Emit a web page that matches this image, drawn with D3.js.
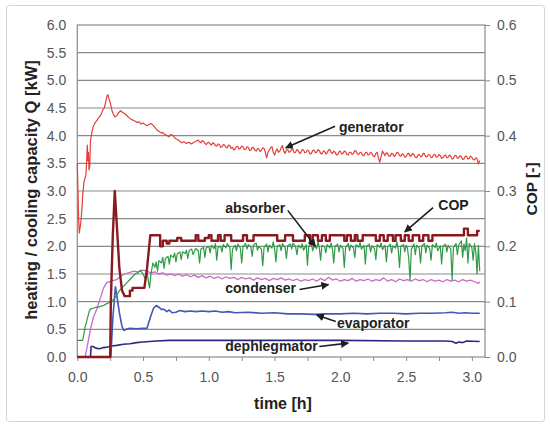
<!DOCTYPE html>
<html>
<head>
<meta charset="utf-8">
<script src="https://cdn.jsdelivr.net/npm/d3@7"></script>
<style>
  body { margin: 0; background: #fff; }
  svg { font-family: "Liberation Sans", Arial, sans-serif; }
  .tick text { font-size: 14px; fill: #555; }
  .axis path.domain { display: none; }
</style>
</head>
<body>
<div id="chart"></div>
<script>

// time [h] , Q [kW]
var generator = [[0,3.5],[0.005,3.0],[0.01,2.5],[0.015,2.24],[0.025,2.4],[0.033,2.6],[0.042,2.95],[0.05,3.15],[0.06,3.25],[0.066,3.3],[0.072,3.6],[0.076,3.83],[0.08,3.55],[0.085,3.7],[0.089,3.38],[0.095,3.45],[0.1,3.9],[0.11,4.05],[0.12,4.16],[0.135,4.23],[0.15,4.28],[0.165,4.33],[0.18,4.38],[0.195,4.47],[0.205,4.5],[0.215,4.6],[0.226,4.72],[0.233,4.74],[0.24,4.68],[0.25,4.6],[0.264,4.45],[0.275,4.38],[0.287,4.34],[0.3,4.36],[0.315,4.42],[0.33,4.45],[0.345,4.42],[0.36,4.4],[0.378,4.36],[0.39,4.33],[0.405,4.3],[0.424,4.28],[0.44,4.26],[0.455,4.24],[0.47,4.25],[0.485,4.21],[0.5,4.23],[0.515,4.2],[0.53,4.18],[0.545,4.2],[0.56,4.22],[0.576,4.19],[0.59,4.15],[0.606,4.1],[0.62,4.08],[0.635,4.05],[0.65,4.06],[0.665,4.02],[0.68,4.01],[0.695,3.98],[0.71,4.02],[0.728,4.0],[0.745,3.95],[0.76,3.93],[0.78,3.9],[0.796,3.87],[0.81,3.89],[0.83,3.86],[0.85,3.88],[0.865,3.85],[0.88,3.87],[0.9,3.9],
  [0.92,3.92],[0.93,3.89],[0.94,3.87],[0.95,3.91],[0.96,3.9],[0.97,3.86],[0.98,3.84],[0.99,3.87],[1.0,3.88],[1.01,3.85],[1.02,3.83],[1.03,3.87],[1.04,3.86],[1.05,3.82],[1.06,3.81],[1.07,3.85],[1.08,3.84],[1.09,3.79],[1.1,3.8],[1.11,3.84],[1.12,3.83],[1.13,3.79],[1.14,3.78],[1.15,3.83],[1.16,3.82],[1.17,3.77],[1.18,3.79],[1.19,3.74],[1.2,3.76],[1.21,3.8],[1.22,3.81],[1.23,3.76],[1.24,3.77],[1.25,3.81],[1.26,3.8],[1.27,3.75],[1.28,3.75],[1.29,3.8],[1.3,3.79],[1.31,3.73],[1.32,3.74],[1.33,3.79],[1.34,3.78],[1.35,3.74],[1.36,3.72],[1.37,3.77],[1.38,3.76],[1.39,3.71],[1.4,3.74],[1.41,3.78],[1.42,3.77],[1.43,3.7],[1.44,3.6],[1.45,3.7],[1.46,3.74],[1.47,3.78],[1.48,3.8],[1.49,3.7],[1.5,3.65],[1.51,3.72],[1.52,3.76],[1.53,3.7],[1.54,3.72],[1.55,3.78],[1.56,3.82],[1.57,3.72],[1.58,3.68],[1.59,3.74],[1.6,3.75],[1.61,3.7],[1.62,3.71],[1.63,3.76],[1.64,3.74],[1.65,3.69],[1.66,3.7],[1.67,3.75],[1.68,3.73],[1.69,3.68],[1.7,3.69],[1.71,3.75],[1.72,3.74],[1.73,3.69],[1.74,3.7],[1.75,3.74],[1.76,3.72],[1.77,3.67],[1.78,3.68],[1.79,3.73],[1.8,3.74],[1.81,3.69],[1.82,3.7],[1.83,3.75],[1.84,3.73],[1.85,3.68],[1.86,3.67],[1.87,3.72],[1.88,3.72],[1.89,3.67],[1.9,3.69],[1.91,3.74],[1.92,3.75],[1.93,3.69],[1.94,3.68],[1.95,3.72],[1.96,3.7],[1.97,3.65],[1.98,3.66],[1.99,3.71],[2.0,3.72],[2.01,3.67],[2.02,3.68],[2.03,3.72],[2.04,3.71],[2.05,3.66],[2.06,3.65],[2.07,3.7],[2.08,3.7],[2.09,3.66],[2.1,3.68],[2.11,3.73],[2.12,3.72],[2.13,3.67],[2.14,3.66],[2.15,3.7],[2.16,3.69],[2.17,3.64],[2.18,3.64],[2.19,3.69],[2.2,3.7],[2.21,3.65],[2.22,3.66],[2.23,3.7],[2.24,3.68],[2.25,3.63],[2.26,3.62],[2.27,3.68],[2.28,3.7],[2.29,3.6],[2.3,3.52],[2.31,3.62],[2.32,3.72],[2.33,3.68],[2.34,3.64],[2.35,3.69],[2.36,3.68],[2.37,3.63],[2.38,3.63],[2.39,3.68],[2.4,3.67],[2.41,3.62],[2.42,3.65],[2.43,3.7],[2.44,3.69],[2.45,3.64],[2.46,3.63],[2.47,3.67],[2.48,3.66],[2.49,3.61],[2.5,3.62],[2.51,3.67],[2.52,3.68],[2.53,3.63],[2.54,3.64],[2.55,3.68],[2.56,3.66],[2.57,3.61],[2.58,3.6],[2.59,3.65],[2.6,3.66],[2.61,3.62],[2.62,3.63],[2.63,3.68],[2.64,3.67],[2.65,3.62],[2.66,3.62],[2.67,3.66],[2.68,3.65],[2.69,3.6],[2.7,3.61],[2.71,3.66],[2.72,3.66],[2.73,3.61],[2.74,3.62],[2.75,3.66],[2.76,3.64],[2.77,3.59],[2.78,3.6],[2.79,3.64],[2.8,3.65],[2.81,3.6],[2.82,3.61],[2.83,3.65],[2.84,3.63],[2.85,3.58],[2.86,3.59],[2.87,3.64],[2.88,3.64],[2.89,3.59],[2.9,3.6],[2.91,3.64],[2.92,3.62],[2.93,3.57],[2.94,3.58],[2.95,3.63],[2.96,3.63],[2.97,3.58],[2.98,3.59],[2.99,3.63],[3.0,3.61],[3.01,3.57],[3.02,3.56],[3.03,3.6],[3.04,3.58],[3.05,3.49],[3.06,3.55]];

var absorber = [[0,0.3],[0.04,0.3],[0.045,0.35],[0.06,0.55],[0.075,0.68],[0.09,0.82],[0.1,0.87],[0.12,0.88],[0.14,0.9],[0.16,0.9],[0.18,0.92],[0.2,0.93],[0.22,0.96],[0.24,0.98],[0.26,1.0],[0.28,1.05],[0.3,1.12],[0.32,1.2],[0.34,1.25],[0.36,1.3],[0.38,1.35],[0.4,1.4],[0.42,1.45],[0.44,1.5],[0.46,1.52],[0.48,1.57],[0.5,1.5],[0.52,1.39],[0.53,1.55],[0.545,1.3],[0.55,1.25],[0.56,1.5],[0.575,1.7],[0.59,1.62],[0.6,1.72],[0.61,1.55],[0.62,1.74],[0.64,1.7],[0.65,1.8],[0.66,1.6],[0.67,1.78],[0.69,1.82],[0.7,1.68],[0.71,1.84],[0.73,1.8],[0.74,1.88],[0.75,1.72],[0.76,1.86],[0.78,1.9],[0.79,1.76],[0.8,1.9],[0.82,1.87],[0.83,1.93],[0.84,1.78],[0.85,1.92],[0.87,1.95],[0.88,1.85],[0.9,1.96],[0.92,1.92],[0.93,1.7],[0.94,1.95],[0.96,1.98],[0.97,1.8],[0.98,1.97],[1.0,2.0],[1.01,1.88],[1.02,2.02],[1.04,1.96],[1.05,2.05],[1.06,1.75],[1.07,1.98],[1.09,2.0],[1.1,1.9],[1.11,2.03],[1.13,1.97],[1.14,2.05],[1.16,1.98],[1.17,1.58],[1.18,1.95],[1.2,2.02],[1.21,1.92],[1.22,2.04],[1.24,1.97],[1.25,1.7],[1.26,2.0],[1.28,2.05],[1.29,1.95],[1.3,2.03],[1.32,1.98],[1.33,1.82],[1.34,2.02],[1.36,2.06],[1.37,1.93],[1.38,2.0],[1.4,1.95],[1.41,1.65],[1.42,1.98],[1.44,2.04],[1.45,1.9],[1.46,2.02],[1.48,1.97],[1.49,2.08],[1.5,1.96],[1.51,1.72],[1.52,2.0],[1.54,2.03],[1.55,1.92],[1.56,2.05],[1.58,1.98],[1.59,1.78],[1.6,2.01],[1.62,2.04],[1.63,1.95],[1.64,2.06],[1.66,1.99],[1.67,1.85],[1.68,2.02],[1.7,1.97],[1.71,2.05],[1.72,1.93],[1.74,2.03],[1.75,1.66],[1.76,2.0],[1.78,2.04],[1.79,1.92],[1.8,2.01],[1.82,1.96],[1.83,2.08],[1.84,1.98],[1.85,1.75],[1.86,2.02],[1.88,1.99],[1.89,1.88],[1.9,2.03],[1.92,1.97],[1.93,2.06],[1.94,1.95],[1.95,1.7],[1.96,2.0],[1.98,2.04],[1.99,1.9],[2.0,2.02],[2.02,1.96],[2.03,1.62],[2.04,1.98],[2.06,2.05],[2.07,1.92],[2.08,2.02],[2.1,1.97],[2.11,1.8],[2.12,2.03],[2.14,1.98],[2.15,2.07],[2.16,1.95],[2.18,2.02],[2.19,1.68],[2.2,2.0],[2.22,2.04],[2.23,1.9],[2.24,2.01],[2.26,1.96],[2.27,1.76],[2.28,2.03],[2.3,1.98],[2.31,2.06],[2.32,1.94],[2.34,2.02],[2.35,1.72],[2.36,1.99],[2.38,2.04],[2.39,1.88],[2.4,2.01],[2.42,1.97],[2.43,2.08],[2.44,1.95],[2.45,1.62],[2.46,2.0],[2.48,2.03],[2.49,1.9],[2.5,2.02],[2.51,1.97],[2.52,1.78],[2.53,1.39],[2.54,1.95],[2.56,2.04],[2.57,1.85],[2.58,2.02],[2.6,1.97],[2.61,1.7],[2.62,2.01],[2.64,2.05],[2.65,1.88],[2.66,2.02],[2.68,1.96],[2.69,1.75],[2.7,2.03],[2.72,1.98],[2.73,2.06],[2.74,1.92],[2.76,2.01],[2.77,1.68],[2.78,2.0],[2.8,2.04],[2.81,1.9],[2.82,2.02],[2.84,1.95],[2.85,1.39],[2.86,1.98],[2.88,2.05],[2.89,1.85],[2.9,2.02],[2.92,2.1],[2.93,1.8],[2.94,2.04],[2.95,1.92],[2.96,2.15],[2.97,1.7],[2.98,2.05],[3.0,1.98],[3.01,1.75],[3.02,2.05],[3.03,1.9],[3.04,1.5],[3.05,2.02],[3.06,1.55]];

var condenser = [[0,0],[0.06,0],[0.08,0.25],[0.1,0.5],[0.12,0.7],[0.15,0.88],[0.18,1.1],[0.2,1.25],[0.225,1.35],[0.25,1.36],[0.27,1.38],[0.3,1.4],[0.33,1.46],[0.36,1.5],[0.4,1.53],[0.43,1.55],[0.46,1.54],[0.5,1.57],[0.53,1.55],[0.56,1.52],[0.59,1.54],[0.62,1.5],[0.65,1.52],[0.68,1.48],[0.71,1.5],[0.74,1.47],[0.77,1.5],[0.8,1.46],[0.83,1.49],[0.86,1.45],[0.89,1.48],[0.92,1.44],[0.95,1.47],[0.98,1.43],[1.01,1.46],[1.04,1.42],[1.07,1.45],[1.1,1.41],[1.13,1.45],[1.16,1.42],[1.19,1.44],[1.22,1.4],[1.25,1.44],[1.28,1.41],[1.31,1.43],[1.34,1.39],[1.37,1.43],[1.4,1.4],[1.43,1.42],[1.46,1.38],[1.49,1.42],[1.52,1.4],[1.55,1.43],[1.58,1.39],[1.61,1.41],[1.64,1.38],[1.67,1.41],[1.7,1.37],[1.73,1.4],[1.76,1.38],[1.79,1.41],[1.82,1.37],[1.85,1.42],[1.88,1.38],[1.91,1.44],[1.94,1.39],[1.97,1.41],[2.0,1.37],[2.03,1.4],[2.06,1.38],[2.09,1.42],[2.12,1.37],[2.15,1.4],[2.18,1.38],[2.21,1.41],[2.24,1.37],[2.27,1.4],[2.3,1.38],[2.33,1.43],[2.36,1.37],[2.39,1.4],[2.42,1.36],[2.45,1.41],[2.48,1.38],[2.51,1.4],[2.54,1.37],[2.57,1.41],[2.6,1.38],[2.63,1.4],[2.66,1.36],[2.69,1.4],[2.72,1.37],[2.75,1.39],[2.78,1.36],[2.81,1.4],[2.84,1.37],[2.87,1.39],[2.9,1.36],[2.93,1.4],[2.96,1.37],[2.99,1.39],[3.02,1.36],[3.05,1.33],[3.06,1.36]];

var evaporator = [[0,0],[0.255,0],[0.27,0.7],[0.29,1.27],[0.3,1.12],[0.32,0.8],[0.34,0.55],[0.355,0.48],[0.37,0.5],[0.4,0.52],[0.45,0.51],[0.5,0.52],[0.53,0.52],[0.56,0.75],[0.58,0.88],[0.6,0.93],[0.62,0.9],[0.64,0.86],[0.66,0.86],[0.68,0.82],[0.7,0.85],[0.72,0.8],[0.75,0.81],[0.78,0.84],[0.82,0.82],[0.86,0.83],[0.9,0.82],[0.95,0.83],[1.0,0.82],[1.05,0.83],[1.1,0.81],[1.15,0.82],[1.2,0.8],[1.3,0.81],[1.4,0.79],[1.5,0.8],[1.6,0.78],[1.7,0.78],[1.8,0.77],[1.9,0.78],[2.0,0.78],[2.1,0.79],[2.2,0.78],[2.3,0.79],[2.4,0.79],[2.5,0.78],[2.6,0.79],[2.7,0.79],[2.8,0.8],[2.85,0.81],[2.9,0.79],[2.95,0.8],[3.0,0.79],[3.06,0.79]];

var dephlegmator = [[0,0],[0.1,0],[0.105,0.19],[0.12,0.19],[0.14,0.16],[0.17,0.15],[0.2,0.17],[0.23,0.18],[0.26,0.2],[0.3,0.21],[0.35,0.23],[0.4,0.24],[0.45,0.26],[0.5,0.27],[0.55,0.28],[0.6,0.29],[0.7,0.3],[0.8,0.3],[1.0,0.3],[1.5,0.3],[2.0,0.3],[2.5,0.29],[2.8,0.29],[2.85,0.28],[2.88,0.25],[2.9,0.27],[2.93,0.26],[2.96,0.29],[3.06,0.28]];

// COP [-] (right axis)
var cop = [[0,0],[0.25,0],[0.255,0.1],[0.27,0.22],[0.285,0.3],[0.3,0.24],[0.32,0.16],[0.34,0.12],[0.36,0.11],[0.4,0.11],[0.4,0.12],[0.42,0.12],[0.42,0.125],[0.51,0.125],[0.53,0.16],[0.555,0.22],[0.63,0.22],[0.63,0.2],[0.65,0.2],[0.65,0.21],[0.68,0.21],[0.68,0.205],[0.7,0.205],[0.7,0.21],[0.76,0.21],[0.76,0.215],[0.79,0.215],[0.79,0.21],[0.9,0.21],[0.9,0.22],[0.92,0.22],[0.92,0.21],[0.97,0.21],[0.97,0.215],[1.0,0.215],[1.0,0.22],[1.02,0.22],[1.02,0.21],[1.07,0.21],[1.07,0.22],[1.09,0.22],[1.09,0.21],[1.12,0.21],[1.12,0.22],[1.17,0.22],[1.17,0.21],[1.26,0.21],[1.26,0.22],[1.29,0.22],[1.29,0.21],[1.34,0.21],[1.34,0.22],[1.52,0.22],[1.52,0.21],[1.58,0.21],[1.58,0.22],[1.64,0.22],[1.64,0.21],[1.73,0.21],[1.73,0.22],[1.77,0.22],[1.77,0.205],[1.79,0.205],[1.79,0.22],[1.83,0.22],[1.83,0.21],[1.86,0.21],[1.86,0.22],[1.89,0.22],[1.89,0.21],[1.92,0.21],[1.92,0.22],[2.03,0.22],[2.03,0.21],[2.05,0.21],[2.05,0.22],[2.08,0.22],[2.08,0.21],[2.11,0.21],[2.11,0.22],[2.13,0.22],[2.13,0.21],[2.17,0.21],[2.17,0.22],[2.27,0.22],[2.27,0.21],[2.3,0.21],[2.3,0.22],[2.33,0.22],[2.33,0.21],[2.36,0.21],[2.36,0.22],[2.4,0.22],[2.4,0.21],[2.42,0.21],[2.42,0.22],[2.46,0.22],[2.46,0.21],[2.49,0.21],[2.49,0.22],[2.52,0.22],[2.52,0.21],[2.55,0.21],[2.55,0.22],[2.6,0.22],[2.6,0.21],[2.63,0.21],[2.63,0.22],[2.67,0.22],[2.67,0.21],[2.7,0.21],[2.7,0.22],[2.94,0.22],[2.94,0.232],[2.97,0.232],[2.97,0.22],[3.04,0.22],[3.04,0.228],[3.06,0.228]];

var xTicks = [0, 0.25, 0.5, 0.75, 1, 1.25, 1.5, 1.75, 2, 2.25, 2.5, 2.75, 3];
var yTicks = [0, 0.5, 1, 1.5, 2, 2.5, 3, 3.5, 4, 4.5, 5, 5.5, 6];
var copTicks = [0, 0.1, 0.2, 0.3, 0.4, 0.5, 0.6];

// labels: text position (t, Q) and arrow from -> to
var notes = [
  {text: "generator",    tx: 1.99,  ty: 4.07, from: [1.96, 4.17], to: [1.585, 3.78]},
  {text: "absorber",     tx: 1.125, ty: 2.6,  from: [1.6, 2.65],  to: [1.81, 2.0]},
  {text: "COP",          tx: 2.745, ty: 2.65, from: [2.705, 2.7], to: [2.49, 2.26]},
  {text: "condenser",    tx: 1.125, ty: 1.15, from: [1.69, 1.22], to: [1.91, 1.31]},
  {text: "evaporator",   tx: 1.975, ty: 0.52, from: [1.965, 0.64], to: [1.82, 0.76]},
  {text: "dephlegmator", tx: 1.125, ty: 0.1,  from: [1.84, 0.19], to: [2.06, 0.25]}
];

var width = 550, height = 425;
var plot = {left: 77.3, right: 485, top: 25, bottom: 357};

var svg = d3.select("#chart").append("svg")
  .attr("width", width)
  .attr("height", height);

// outer frame
svg.append("rect")
  .attr("x", 6.5).attr("y", 5.5)
  .attr("width", 538).attr("height", 416)
  .attr("rx", 3)
  .style("fill", "none")
  .style("stroke", "#d4d4d4");

var x = d3.scaleLinear().domain([0, 3.1]).range([plot.left, plot.right]);
var y = d3.scaleLinear().domain([0, 6]).range([plot.bottom, plot.top]);
var yCop = d3.scaleLinear().domain([0, 0.6]).range([plot.bottom, plot.top]);

// grid
svg.append("g")
  .selectAll("line")
  .data(yTicks.filter(d => d > 0 && d < 6))
  .enter()
  .append("line")
  .attr("x1", plot.left).attr("x2", plot.right)
  .attr("y1", d => y(d)).attr("y2", d => y(d))
  .style("stroke", "#8a8a8a")
  .style("stroke-width", 1.2);

svg.append("rect")
  .attr("x", plot.left).attr("y", plot.top)
  .attr("width", plot.right - plot.left).attr("height", plot.bottom - plot.top)
  .style("fill", "none")
  .style("stroke", "#8a8a8a")
  .style("stroke-width", 1.2);

// axes
svg.append("g")
  .attr("class", "axis")
  .attr("transform", `translate(${plot.left},0)`)
  .call(d3.axisLeft(y).tickValues(yTicks).tickFormat(d3.format(".1f")).tickSize(0).tickPadding(11));

svg.append("g")
  .attr("class", "axis")
  .attr("transform", `translate(${plot.right},0)`)
  .call(d3.axisRight(yCop).tickValues(copTicks).tickFormat(d3.format(".1f")).tickSize(5).tickPadding(7))
  .selectAll("line").style("stroke", "#8a8a8a");

svg.append("g")
  .attr("class", "axis")
  .attr("transform", `translate(0,${plot.bottom})`)
  .call(d3.axisBottom(x).tickValues(xTicks)
    .tickFormat(d => (Math.round(d * 100) % 50 == 0) ? d3.format(".1f")(d) : "")
    .tickSize(4).tickPadding(11))
  .selectAll("line").style("stroke", "#8a8a8a");

// titles
svg.append("text")
  .attr("transform", "translate(37,190) rotate(-90)")
  .attr("text-anchor", "middle")
  .style("font-size", "16.5px").style("font-weight", "bold").style("fill", "#222")
  .text("heating / cooling capacity Q [kW]");

svg.append("text")
  .attr("transform", "translate(537,189) rotate(-90)")
  .attr("text-anchor", "middle")
  .style("font-size", "15.5px").style("font-weight", "bold").style("fill", "#222")
  .text("COP [-]");

svg.append("text")
  .attr("x", 283).attr("y", 409)
  .attr("text-anchor", "middle")
  .style("font-size", "16px").style("font-weight", "bold").style("fill", "#222")
  .text("time [h]");

// lines
var line = d3.line().x(d => x(d[0])).y(d => y(d[1]));
var copLine = d3.line().x(d => x(d[0])).y(d => yCop(d[1]));

var series = [
  {data: dephlegmator, color: "#2a2a86", w: 1.6},
  {data: evaporator,   color: "#4656b4", w: 1.6},
  {data: condenser,    color: "#c86ac8", w: 1.3},
  {data: absorber,     color: "#2e9a46", w: 1.2},
  {data: generator,    color: "#e2403a", w: 1.2}
];

svg.append("g")
  .attr("id", "lines")
  .selectAll("path")
  .data(series)
  .enter()
  .append("path")
  .attr("d", d => line(d.data))
  .style("fill", "none")
  .style("stroke", d => d.color)
  .style("stroke-width", d => d.w)
  .style("stroke-linejoin", "round");

svg.append("path")
  .attr("d", copLine(cop))
  .style("fill", "none")
  .style("stroke", "#8a1a1e")
  .style("stroke-width", 2.4)
  .style("stroke-linejoin", "round");

// annotations
svg.append("defs").append("marker")
  .attr("id", "arrow")
  .attr("viewBox", "0 0 10 10")
  .attr("refX", 9).attr("refY", 5)
  .attr("markerWidth", 5).attr("markerHeight", 5)
  .attr("markerUnits", "strokeWidth")
  .attr("orient", "auto")
  .append("path")
  .attr("d", "M0,0 L10,5 L0,10 z")
  .style("fill", "#1e1e1e");

var ann = svg.append("g").attr("id", "notes");

ann.selectAll("line")
  .data(notes)
  .enter()
  .append("line")
  .attr("x1", d => x(d.from[0])).attr("y1", d => y(d.from[1]))
  .attr("x2", d => x(d.to[0])).attr("y2", d => y(d.to[1]))
  .style("stroke", "#1e1e1e")
  .style("stroke-width", 1.6)
  .attr("marker-end", "url(#arrow)");

ann.selectAll("text")
  .data(notes)
  .enter()
  .append("text")
  .attr("x", d => x(d.tx)).attr("y", d => y(d.ty))
  .style("font-size", "14px").style("font-weight", "bold").style("fill", "#222")
  .text(d => d.text);

</script>
</body>
</html>
